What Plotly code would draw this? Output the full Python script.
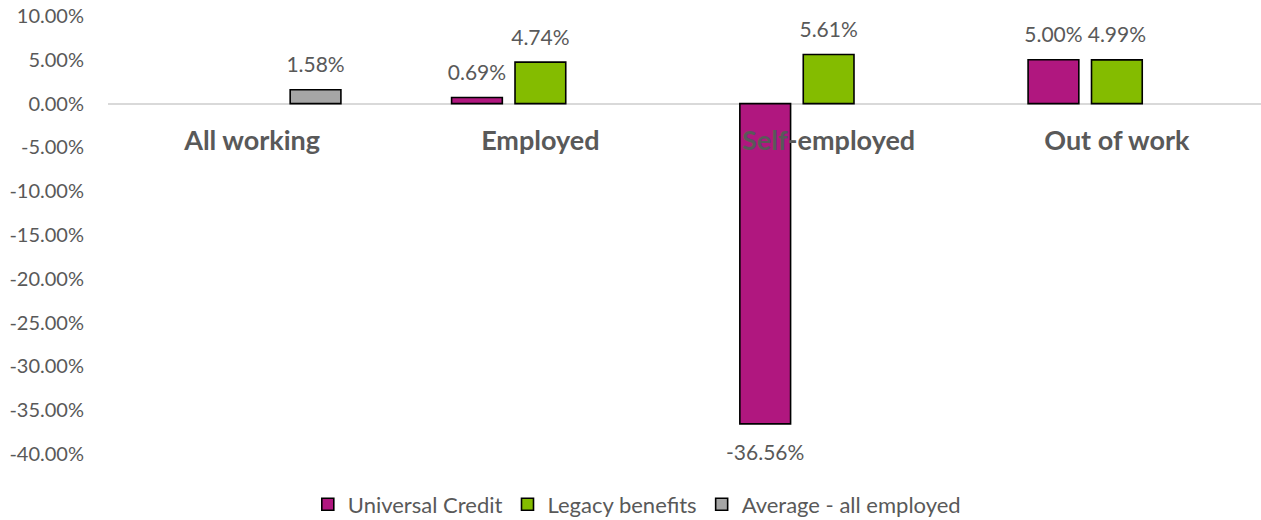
import plotly.graph_objects as go

categories = ["All working", "Employed", "Self-employed", "Out of work"]
universal_credit = [None, 0.69, -36.56, 5.00]
legacy_benefits = [None, 4.74, 5.61, 4.99]
average_all_employed = [1.58, None, None, None]
series_names = ["Universal Credit", "Legacy benefits", "Average - all employed"]
y_min, y_max, y_step = -40, 10, 5
y_ticks = list(range(y_min, y_max + 1, y_step))
y_tick_labels = [f"{v:.2f}%" for v in y_ticks]

colors = ["#B0177F", "#84BC00", "#A6A6A6"]
text_color = "#595959"
font_family = "Lato"
bargap = 0.34

fig = go.Figure()
all_series = [universal_credit, legacy_benefits, average_all_employed]
for name, vals, col in zip(series_names, all_series, colors):
    fig.add_trace(go.Bar(
        name=name, x=categories, y=vals,
        marker=dict(color=col, line=dict(color="black", width=1.6)),
        hoverinfo="skip",
    ))

for name, vals in zip(series_names, all_series):
    labels = [None if v is None else f"{v:.2f}%" for v in vals]
    positions = ["bottom center" if (v is not None and v < 0) else "top center" for v in vals]
    sizes = [31 if (v is not None and v < 0) else 18 for v in vals]
    fig.add_trace(go.Scatter(
        x=categories, y=vals, mode="markers+text", text=labels,
        textposition=positions,
        marker=dict(size=sizes, opacity=0, color="white"),
        textfont=dict(family=font_family, size=21, color=text_color),
        showlegend=False, hoverinfo="skip", cliponaxis=False,
    ))

fig.update_layout(
    width=1261, height=520,
    margin=dict(l=108, r=0, t=16, b=66, autoexpand=False),
    paper_bgcolor="white", plot_bgcolor="white",
    barmode="group", bargap=bargap, bargroupgap=0.2,
    scattermode="group", scattergap=bargap,
    font=dict(family=font_family, color=text_color),
    showlegend=True,
    legend=dict(
        orientation="h", xref="container", yref="container",
        x=0.505, xanchor="center", y=0.03, yanchor="middle",
        font=dict(family=font_family, size=22, color=text_color),
        traceorder="normal",
    ),
    xaxis=dict(
        anchor="free", position=(0 - y_min) / (y_max - y_min),
        showline=False, showgrid=False, zeroline=False, ticks="",
        tickfont=dict(family=font_family, size=27, color=text_color, weight="bold"),
        ticklabelstandoff=18, layer="above traces",
    ),
    yaxis=dict(
        range=[y_min, y_max], tickvals=y_ticks, ticktext=y_tick_labels,
        showgrid=False, zeroline=True, zerolinecolor="#D9D9D9", zerolinewidth=1.5,
        showline=False, ticks="", ticklabelstandoff=23,
        tickfont=dict(family=font_family, size=20, color=text_color),
    ),
)

fig.write_html("out.html")
